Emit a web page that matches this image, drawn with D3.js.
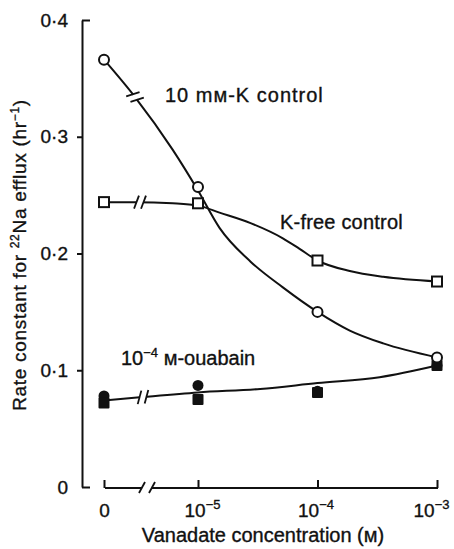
<!DOCTYPE html>
<html lang="en">
<head>
    <meta charset="UTF-8">
    <title>Vanadate and 22Na efflux</title>
    <script src="https://d3js.org/d3.v7.min.js"></script>
    <style>
        body { margin: 0; background: #fff; }
        svg text { font-family: "Liberation Sans", Arial, sans-serif; fill: #111; stroke: #111; stroke-width: 0.35px; }
    </style>
</head>
<body>
    <div id="chart"></div>

    <script>
        // positions on the broken x axis: 0, 1e-5, 1e-4, 1e-3 M
        const concPos = [0, 1, 2, 3];
        const xTickBase = ['0', '10', '10', '10'];
        const xTickExp = ['', '\u22125', '\u22124', '\u22123'];
        const yTicks = [0, 0.1, 0.2, 0.3, 0.4];

        // measured points
        const tenK = [0.366, 0.257, 0.150, 0.111];
        const kFree = [0.244, 0.243, 0.194, 0.176];
        const ouabainCircle = [0.078, 0.087, 0.082, 0.104];
        const ouabainSquare = [0.072, 0.075, 0.081, 0.104];

        // fitted curves as drawn in the figure
        const tenKFitPos = [0, 0.33, 0.73, 1, 1.18, 1.44, 1.71, 2, 2.27, 2.55, 3];
        const tenKFit = [0.366, 0.334, 0.289, 0.254, 0.222, 0.193, 0.171, 0.150, 0.134, 0.123, 0.111];
        const kFreeFitPos = [0, 0.33, 0.73, 1, 1.18, 1.44, 1.71, 1.85, 2, 2.27, 2.55, 3];
        const kFreeFit = [0.244, 0.244, 0.243, 0.241, 0.235, 0.226, 0.213, 0.204, 0.194, 0.185, 0.180, 0.176];
        const ouabainFitPos = [0, 0.41, 1, 1.52, 2, 2.52, 3];
        const ouabainFit = [0.074, 0.077, 0.081, 0.084, 0.089, 0.094, 0.104];

        const width = 454;
        const height = 549;

        const svg = d3.select('#chart')
            .append('svg')
            .attr('width', width)
            .attr('height', height);

        // broken axis: the 0 point sits left of the log decades
        const x = d3.scaleLinear().domain([0, 1, 3]).range([104, 198, 437]);
        const y = d3.scaleLinear().domain([0, 0.4]).range([487, 20]);

        const axisX0 = 82;   // y axis position
        const axisY0 = 488;  // x axis position

        // y axis
        const yAxis = svg.append('g')
            .attr('transform', `translate(${axisX0},0)`)
            .call(d3.axisLeft(y)
                .tickValues(yTicks)
                .tickSizeInner(5)
                .tickSizeOuter(0)
                .tickFormat(d => d === 0 ? '0' : d.toFixed(1).replace('.', '\u00b7')));
        yAxis.select('.domain').attr('stroke', '#111').attr('stroke-width', 2);
        yAxis.selectAll('.tick line').attr('stroke', '#111').attr('stroke-width', 2)
            .attr('x1', 0)
            .attr('x2', d => (d === 0 || d === 0.4) ? 8 : -5);
        yAxis.selectAll('.tick text')
            .attr('x', -14)
            .style('font-size', '19px')
            .attr('fill', '#111');

        // x axis (ticks point up, domain drawn by hand for the break)
        const labelNudge = [0, 4, -2, -6];
        const xAxis = svg.append('g')
            .attr('transform', `translate(0,${axisY0})`)
            .call(d3.axisBottom(x)
                .tickValues(concPos)
                .tickSizeInner(-8)
                .tickSizeOuter(0)
                .tickFormat(''));
        xAxis.select('.domain').remove();
        xAxis.selectAll('.tick line').attr('stroke', '#111').attr('stroke-width', 2);
        xAxis.selectAll('.tick text').remove();
        xAxis.selectAll('.tick').append('text')
            .attr('y', 29)
            .attr('x', (d, i) => labelNudge[i])
            .attr('text-anchor', 'middle')
            .style('font-size', '19px')
            .each(function (d, i) {
                const t = d3.select(this);
                t.append('tspan').text(xTickBase[i]);
                if (xTickExp[i]) {
                    t.append('tspan').attr('dy', -8).style('font-size', '13px').text(xTickExp[i]);
                }
            });

        // x axis line with break
        const xb1 = 142, xb2 = 152;
        svg.append('line').attr('x1', x(0) + 1).attr('x2', xb1).attr('y1', axisY0).attr('y2', axisY0)
            .attr('stroke', '#111').attr('stroke-width', 2);
        svg.append('line').attr('x1', xb2).attr('x2', x(3) + 1).attr('y1', axisY0).attr('y2', axisY0)
            .attr('stroke', '#111').attr('stroke-width', 2);
        [xb1, xb2].forEach(bx => {
            svg.append('line')
                .attr('x1', bx - 3).attr('y1', axisY0 + 5)
                .attr('x2', bx + 3).attr('y2', axisY0 - 6)
                .attr('stroke', '#111').attr('stroke-width', 1.8);
        });

        // axis titles
        svg.append('text')
            .attr('x', 263)
            .attr('y', 542)
            .attr('text-anchor', 'middle')
            .style('font-size', '20px')
            .text('Vanadate concentration (\u043c)');

        const yTitle = svg.append('text')
            .attr('transform', 'translate(26,255) rotate(-90)')
            .attr('text-anchor', 'middle')
            .style('font-size', '19px')
            .style('letter-spacing', '0.7px');
        yTitle.append('tspan').text('Rate constant for  ');
        yTitle.append('tspan').attr('dy', -7).style('font-size', '12px').text('22');
        yTitle.append('tspan').attr('dy', 7).text('Na efflux (hr');
        yTitle.append('tspan').attr('dy', -7).style('font-size', '12px').text('\u22121');
        yTitle.append('tspan').attr('dy', 7).text(')');

        // fitted curves
        const line = d3.line()
            .x(d => x(d[0]))
            .y(d => y(d[1]))
            .curve(d3.curveMonotoneX);

        function drawCurve(pos, vals, breakX) {
            const path = svg.append('path')
                .datum(pos.map((p, i) => [p, vals[i]]))
                .attr('d', line)
                .attr('fill', 'none')
                .attr('stroke', '#111')
                .attr('stroke-width', 2);

            // find the point on the curve at breakX
            const node = path.node();
            const total = node.getTotalLength();
            let lo = 0, hi = total;
            for (let k = 0; k < 30; k++) {
                const mid = (lo + hi) / 2;
                if (node.getPointAtLength(mid).x < breakX) lo = mid; else hi = mid;
            }
            const p0 = node.getPointAtLength(lo);
            const p1 = node.getPointAtLength(Math.min(total, lo + 2));
            const ang = Math.atan2(p1.y - p0.y, p1.x - p0.x);
            const tx = Math.cos(ang), ty = Math.sin(ang);
            const sAng = ang - 70 * Math.PI / 180;
            const sx = Math.cos(sAng) * 7, sy = Math.sin(sAng) * 7;

            // white gap
            svg.append('line')
                .attr('x1', p0.x - tx * 3).attr('y1', p0.y - ty * 3)
                .attr('x2', p0.x + tx * 3).attr('y2', p0.y + ty * 3)
                .attr('stroke', '#fff').attr('stroke-width', 5);
            [-3.5, 3.5].forEach(o => {
                const cx = p0.x + tx * o, cy = p0.y + ty * o;
                svg.append('line')
                    .attr('x1', cx - sx).attr('y1', cy - sy)
                    .attr('x2', cx + sx).attr('y2', cy + sy)
                    .attr('stroke', '#111').attr('stroke-width', 1.8);
            });
        }

        drawCurve(tenKFitPos, tenKFit, 135);
        drawCurve(kFreeFitPos, kFreeFit, 140);
        drawCurve(ouabainFitPos, ouabainFit, 143);

        // markers: filled first, open on top
        svg.selectAll('.oc')
            .data(ouabainCircle)
            .enter()
            .append('circle')
            .attr('cx', (d, i) => x(concPos[i]))
            .attr('cy', d => y(d))
            .attr('r', 5.5)
            .attr('fill', '#111');

        svg.selectAll('.os')
            .data(ouabainSquare)
            .enter()
            .append('rect')
            .attr('x', (d, i) => x(concPos[i]) - 5.5)
            .attr('y', d => y(d) - 5.5)
            .attr('width', 11)
            .attr('height', 11)
            .attr('rx', 1)
            .attr('fill', '#111');

        svg.selectAll('.ks')
            .data(kFree)
            .enter()
            .append('rect')
            .attr('x', (d, i) => x(concPos[i]) - 5)
            .attr('y', d => y(d) - 5)
            .attr('width', 10)
            .attr('height', 10)
            .attr('fill', '#fff')
            .attr('stroke', '#111')
            .attr('stroke-width', 2);

        svg.selectAll('.kc')
            .data(tenK)
            .enter()
            .append('circle')
            .attr('cx', (d, i) => x(concPos[i]))
            .attr('cy', d => y(d))
            .attr('r', 5)
            .attr('fill', '#fff')
            .attr('stroke', '#111')
            .attr('stroke-width', 2);

        // series labels
        svg.append('text')
            .attr('x', 165).attr('y', 102)
            .style('font-size', '20px')
            .style('letter-spacing', '1px')
            .text('10 m\u043c-K control');

        svg.append('text')
            .attr('x', 280).attr('y', 229)
            .style('font-size', '20px')
            .style('letter-spacing', '0.2px')
            .text('K-free control');

        const ouLabel = svg.append('text')
            .attr('x', 121).attr('y', 365)
            .style('font-size', '20px');
        ouLabel.append('tspan').text('10');
        ouLabel.append('tspan').attr('dy', -8).style('font-size', '13px').text('\u22124');
        ouLabel.append('tspan').attr('dy', 8).text(' \u043c-ouabain');
    </script>
</body>
</html>
